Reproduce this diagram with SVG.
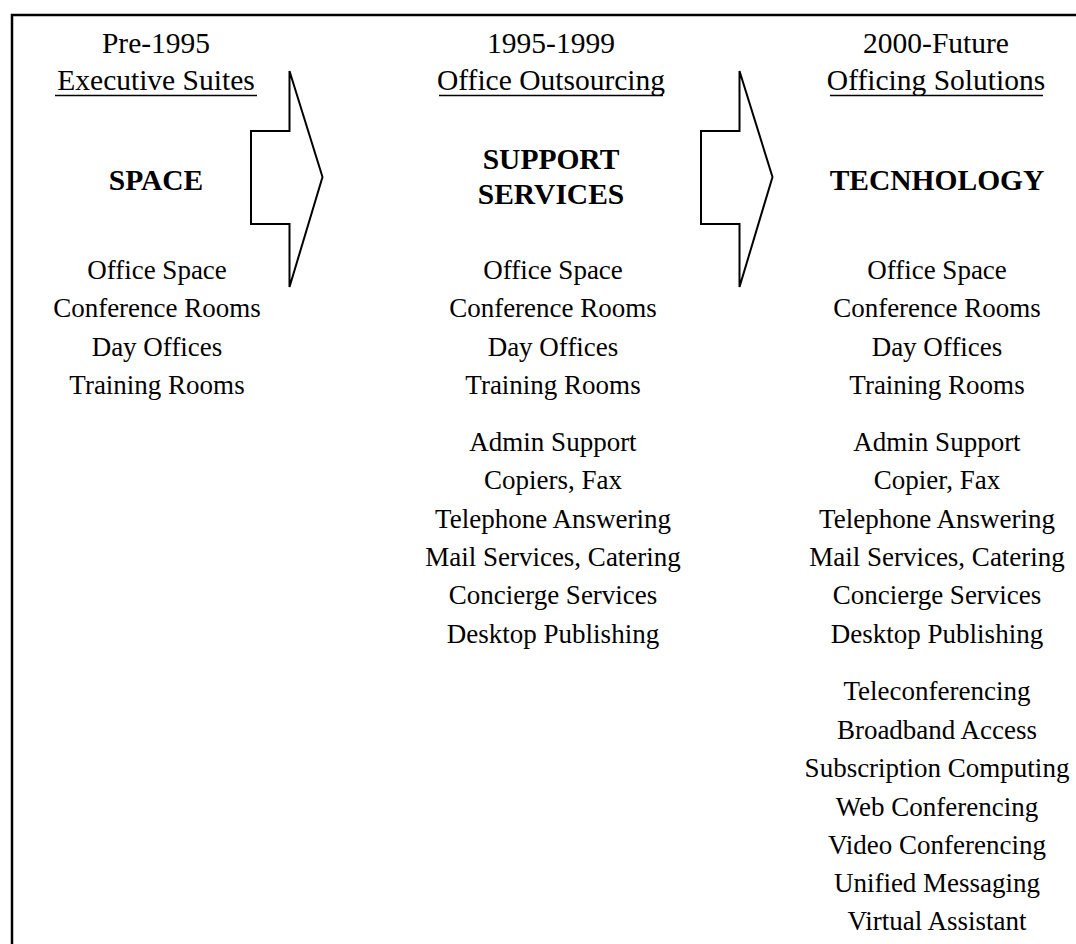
<svg xmlns="http://www.w3.org/2000/svg" width="1076" height="944" viewBox="0 0 1076 944">
  <style>
    text { font-family: "Liberation Serif", "Times New Roman", serif; fill: #000; text-anchor: middle; }
    .hd { font-size: 29.5px; }
    .item { font-size: 27px; }
    .title { font-size: 29.5px; font-weight: bold; }
    .ul { stroke: #000; stroke-width: 1.5; }
    .frame { fill: none; stroke: #000; stroke-width: 2.5; }
    .arrow { fill: #fff; stroke: #000; stroke-width: 2; stroke-linejoin: miter; }
  </style>
  <rect width="1076" height="944" fill="#fff"/>

  <!-- page frame: left and top edges -->
  <path class="frame" d="M12,944 V15 H1076"/>

  <!-- block arrows between stages -->
  <g id="connectors">
    <path class="arrow" d="M251,131 H289.5 V71 L322.5,177 L289.5,287 V224 H251 Z"/>
    <path class="arrow" d="M701,131 H739.5 V71 L772.5,177 L739.5,287 V224 H701 Z"/>
  </g>

  <!-- stage 1 -->
  <g id="stage-pre1995">
    <text class="hd" x="156" y="53">Pre-1995</text>
    <text class="hd" x="156" y="90">Executive Suites</text>
    <line class="ul" x1="55" y1="95.5" x2="257" y2="95.5"/>
    <text class="title" x="156" y="190">SPACE</text>
    <text class="item" x="157" y="279">Office Space</text>
    <text class="item" x="157" y="317">Conference Rooms</text>
    <text class="item" x="157" y="356">Day Offices</text>
    <text class="item" x="157" y="394">Training Rooms</text>
  </g>

  <!-- stage 2 -->
  <g id="stage-1995-1999">
    <text class="hd" x="551" y="53">1995-1999</text>
    <text class="hd" x="551" y="90">Office Outsourcing</text>
    <line class="ul" x1="439" y1="95.5" x2="663" y2="95.5"/>
    <text class="title" x="551" y="169">SUPPORT</text>
    <text class="title" x="551" y="204">SERVICES</text>
    <text class="item" x="553" y="279">Office Space</text>
    <text class="item" x="553" y="317">Conference Rooms</text>
    <text class="item" x="553" y="356">Day Offices</text>
    <text class="item" x="553" y="394">Training Rooms</text>
    <text class="item" x="553" y="451">Admin Support</text>
    <text class="item" x="553" y="489">Copiers, Fax</text>
    <text class="item" x="553" y="528">Telephone Answering</text>
    <text class="item" x="553" y="566">Mail Services, Catering</text>
    <text class="item" x="553" y="604">Concierge Services</text>
    <text class="item" x="553" y="643">Desktop Publishing</text>
  </g>

  <!-- stage 3 -->
  <g id="stage-2000-future">
    <text class="hd" x="936" y="53">2000-Future</text>
    <text class="hd" x="936" y="90">Officing Solutions</text>
    <line class="ul" x1="830" y1="95.5" x2="1043" y2="95.5"/>
    <text class="title" x="937" y="190">TECNHOLOGY</text>
    <text class="item" x="937" y="279">Office Space</text>
    <text class="item" x="937" y="317">Conference Rooms</text>
    <text class="item" x="937" y="356">Day Offices</text>
    <text class="item" x="937" y="394">Training Rooms</text>
    <text class="item" x="937" y="451">Admin Support</text>
    <text class="item" x="937" y="489">Copier, Fax</text>
    <text class="item" x="937" y="528">Telephone Answering</text>
    <text class="item" x="937" y="566">Mail Services, Catering</text>
    <text class="item" x="937" y="604">Concierge Services</text>
    <text class="item" x="937" y="643">Desktop Publishing</text>
    <text class="item" x="937" y="700">Teleconferencing</text>
    <text class="item" x="937" y="738.5">Broadband Access</text>
    <text class="item" x="937" y="777">Subscription Computing</text>
    <text class="item" x="937" y="815.5">Web Conferencing</text>
    <text class="item" x="937" y="854">Video Conferencing</text>
    <text class="item" x="937" y="892">Unified Messaging</text>
    <text class="item" x="937" y="930">Virtual Assistant</text>
  </g>
</svg>
